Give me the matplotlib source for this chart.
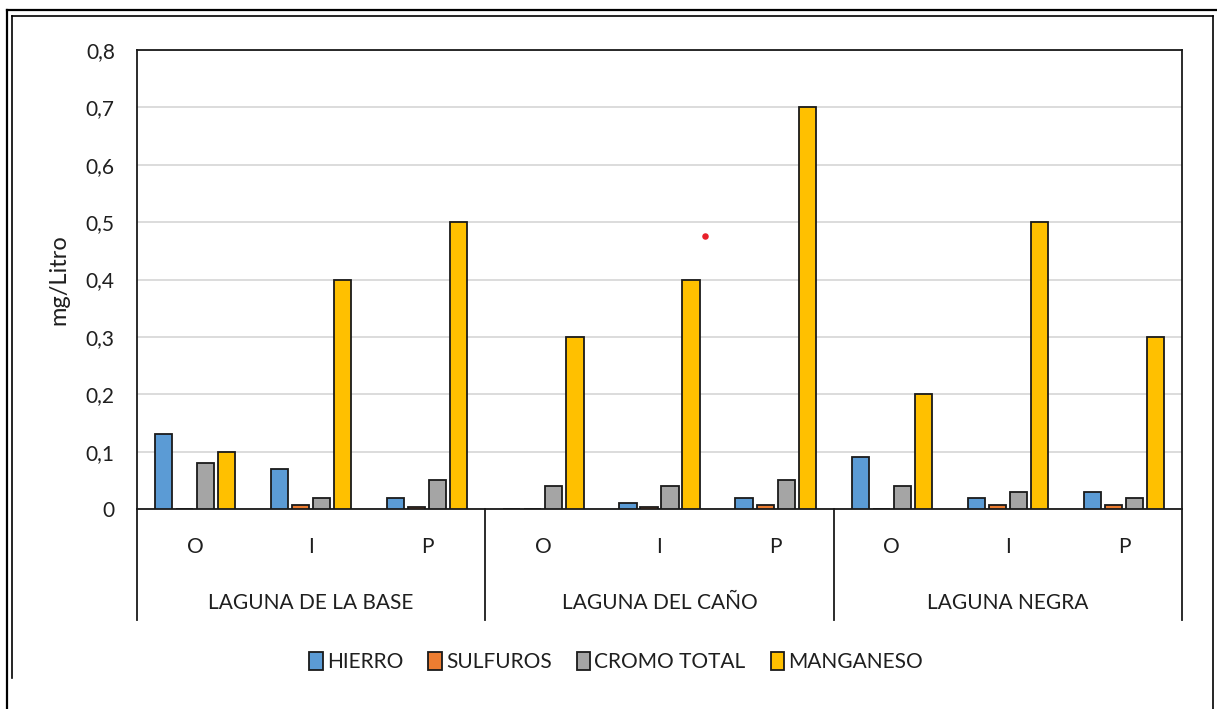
import matplotlib
matplotlib.use("Agg")
import matplotlib.pyplot as plt
import matplotlib.transforms as mtransforms
from matplotlib.lines import Line2D
from matplotlib.patches import Patch
import numpy as np

plt.rcParams['font.family'] = ['Lato', 'DejaVu Sans']

lagunas = ["LAGUNA DE LA BASE", "LAGUNA DEL CAÑO", "LAGUNA NEGRA"]
puntos = ["O", "I", "P"]
series_names = ["HIERRO", "SULFUROS", "CROMO TOTAL", "MANGANESO"]
hierro = [0.13, 0.07, 0.02, 0.0, 0.01, 0.02, 0.09, 0.02, 0.03]
sulfuros = [0.0, 0.007, 0.004, 0.0, 0.003, 0.007, 0.0, 0.007, 0.007]
cromo = [0.08, 0.02, 0.05, 0.04, 0.04, 0.05, 0.04, 0.03, 0.02]
manganeso = [0.10, 0.40, 0.50, 0.30, 0.40, 0.70, 0.20, 0.50, 0.30]
yticks = [0.0, 0.1, 0.2, 0.3, 0.4, 0.5, 0.6, 0.7, 0.8]
ytick_labels = ["0", "0,1", "0,2", "0,3", "0,4", "0,5", "0,6", "0,7", "0,8"]
# stray red dot visible in the source image (data coordinates)
punto_rojo_x = [4.39]
punto_rojo_y = [0.476]

colors = ["#5B9BD5", "#ED7D31", "#A5A5A5", "#FFC000"]
txt = "#1f1f1f"
W, H = 1217, 709
fig = plt.figure(figsize=(W / 100, H / 100), dpi=100)
ax = fig.add_axes([137 / W, 1 - 509 / H, (1182 - 137) / W, (509 - 50) / H])

n = len(hierro)
x = np.arange(n)
pitch = 0.181
bw = 0.148
all_series = [hierro, sulfuros, cromo, manganeso]
for i, (vals, c) in enumerate(zip(all_series, colors)):
    ax.bar(x + (i - 1.5) * pitch, vals, width=bw, color=c, edgecolor="#1a1a1a",
           linewidth=1.3, zorder=3)

ax.scatter(punto_rojo_x, punto_rojo_y, s=22, color="#e8202a", zorder=4, linewidths=0)

ax.set_xlim(-0.5, n - 0.5)
ax.set_ylim(0, 0.8)
ax.set_yticks(yticks)
ax.set_yticklabels(ytick_labels, fontsize=15, color=txt)
ax.tick_params(axis="y", length=0, pad=16)
ax.tick_params(axis="x", length=0, labelbottom=False)
ax.grid(axis="y", color="#d9d9d9", linewidth=1.3, zorder=0)
for s in ["top", "right", "left", "bottom"]:
    ax.spines[s].set_color("#1a1a1a")
    ax.spines[s].set_linewidth(1.3)
ax.set_ylabel("mg/Litro", fontsize=17, color=txt, labelpad=12)

trans = mtransforms.blended_transform_factory(ax.transData, ax.transAxes)
for xi in range(n):
    ax.text(x[xi], -0.083, puntos[xi % 3], transform=trans, ha="center",
            va="center", fontsize=15, color=txt)
for g, name in enumerate(lagunas):
    ax.text(3 * g + 1, -0.205, name, transform=trans, ha="center",
            va="center", fontsize=15, color=txt)
for b in [-0.5, 2.5, 5.5, 8.5]:
    ax.add_line(Line2D([b, b], [0, -0.242], transform=trans, color="#1a1a1a",
                       linewidth=1.3, clip_on=False))

handles = [Patch(facecolor=c, edgecolor="#1a1a1a", linewidth=1.3) for c in colors]
fig.legend(handles, series_names, loc="center", bbox_to_anchor=(616 / W, 1 - 662 / H),
           ncol=4, frameon=False, fontsize=15, handlelength=0.65, handleheight=1.0,
           handletextpad=0.2, columnspacing=1.2, labelcolor=txt)

def fl(xs, ys, lw=1.6):
    fig.add_artist(Line2D([v / W for v in xs], [1 - v / H for v in ys],
                          transform=fig.transFigure, color="#000000", linewidth=lw))

fl([7, 1217], [10, 10])
fl([7, 7], [10, 709])
fl([12, 1213], [16, 16], 1.2)
fl([12, 12], [16, 678], 1.2)
fl([1213, 1213], [16, 709], 1.2)

fig.savefig("out.png", dpi=100, facecolor="white")
